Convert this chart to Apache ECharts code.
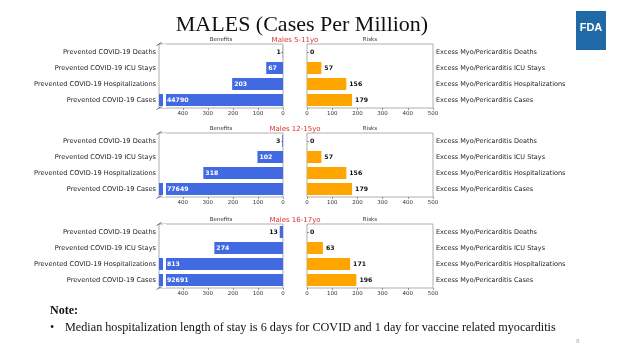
<!DOCTYPE html>
<html><head><meta charset="utf-8">
<script src="https://cdn.jsdelivr.net/npm/echarts@6/dist/echarts.min.js"></script>
<style>html,body{margin:0;padding:0;background:#fff}#c{width:624px;height:346px}</style>
</head><body><div id="c"></div>
<script>
// ---------- data ----------
const benefitCategories = ['Prevented COVID-19 Deaths', 'Prevented COVID-19 ICU Stays', 'Prevented COVID-19 Hospitalizations', 'Prevented COVID-19 Cases'];
const riskCategories = ['Excess Myo/Pericarditis Deaths', 'Excess Myo/Pericarditis ICU Stays', 'Excess Myo/Pericarditis Hospitalizations', 'Excess Myo/Pericarditis Cases'];
const groupTitles = ['Males 5-11yo', 'Males 12-15yo', 'Males 16-17yo'];
const benefits5to11 = [1, 67, 203, 44790];
const benefits12to15 = [3, 102, 318, 77649];
const benefits16to17 = [13, 274, 813, 92691];
const risks5to11 = [0, 57, 156, 179];
const risks12to15 = [0, 57, 156, 179];
const risks16to17 = [0, 63, 171, 196];
const benefitTicks = [0, 100, 200, 300, 400];
const riskTicks = [0, 100, 200, 300, 400, 500];
const benefitAxisMax = 495;
const riskAxisMax = 500;
const breakValue = 474;
const mainTitle = 'MALES (Cases Per Million)';
const noteTitle = 'Note:';
const noteText = 'Median hospitalization length of stay is 6 days for COVID and 1 day for vaccine related myocarditis';

const benefitsAll = [benefits5to11, benefits12to15, benefits16to17];
const risksAll = [risks5to11, risks12to15, risks16to17];

// ---------- layout ----------
const panelTops = [44, 133, 224];
const panelH = 64;
const L = {left: 159, width: 124};
const R = {left: 307, width: 126};
const FONT = 'DejaVu Sans';
const BLUE = '#4169E1', ORANGE = '#FFA500';

const grid = [], xAxis = [], yAxis = [], series = [], graphic = [];

panelTops.forEach((top, i) => {
  const gl = grid.length;
  grid.push({left: L.left, top: top, width: L.width, height: panelH, show: true, borderColor: '#9a9a9a', borderWidth: 0.8, containLabel: false});
  grid.push({left: R.left, top: top, width: R.width, height: panelH, show: true, borderColor: '#9a9a9a', borderWidth: 0.8, containLabel: false});

  const tickCommon = {show: true, length: 2, lineStyle: {color: '#555', width: 0.6}};
  xAxis.push({gridIndex: gl, type: 'value', min: 0, max: benefitAxisMax, interval: 100, inverse: true,
    splitLine: {show: false}, axisLine: {show: false},
    axisTick: Object.assign({customValues: benefitTicks}, tickCommon),
    axisLabel: {customValues: benefitTicks, fontSize: 5.5, color: '#333', margin: 3, fontFamily: FONT,
      formatter: v => (v % 100 === 0 ? String(v) : '')}});
  xAxis.push({gridIndex: gl + 1, type: 'value', min: 0, max: riskAxisMax, interval: 100,
    splitLine: {show: false}, axisLine: {show: false},
    axisTick: tickCommon,
    axisLabel: {fontSize: 5.5, color: '#333', margin: 3, fontFamily: FONT}});
  yAxis.push({gridIndex: gl, type: 'category', data: benefitCategories, inverse: true,
    axisLine: {show: false}, axisTick: Object.assign({alignWithLabel: true}, tickCommon),
    axisLabel: {fontSize: 6.6, color: '#222', margin: 3, fontFamily: FONT}});
  yAxis.push({gridIndex: gl + 1, type: 'category', data: riskCategories, inverse: true, position: 'right',
    axisLine: {show: false}, axisTick: Object.assign({alignWithLabel: true}, tickCommon),
    axisLabel: {fontSize: 6.5, color: '#222', margin: 3, fontFamily: FONT}});

  const bdata = benefitsAll[i].map(v => {
    const small = v < 40;
    const broken = v > benefitAxisMax;
    return {value: v, label: {
      position: small ? 'left' : 'insideLeft',
      color: small ? '#111' : '#fff',
      distance: broken ? 8 : 2
    }};
  });
  series.push({type: 'bar', xAxisIndex: gl, yAxisIndex: gl, data: bdata, barWidth: '75%',
    itemStyle: {color: BLUE}, clip: true,
    label: {show: true, formatter: '{c}', fontSize: 6.2, fontWeight: 'bold', fontFamily: FONT},
    markLine: {silent: true, symbol: 'none', animation: false, label: {show: false},
      lineStyle: {color: '#fff', width: 3, type: 'solid'}, data: [{xAxis: breakValue}]}
  });
  series.push({type: 'bar', xAxisIndex: gl + 1, yAxisIndex: gl + 1, data: risksAll[i], barWidth: '75%',
    itemStyle: {color: ORANGE},
    label: {show: true, position: 'right', distance: 3, formatter: '{c}', fontSize: 6.2, fontWeight: 'bold', color: '#111', fontFamily: FONT}
  });

  // panel titles
  graphic.push({type: 'text', x: L.left + L.width / 2, y: top - 4, style: {text: 'Benefits', fill: '#333', font: '5.5px "DejaVu Sans"', textAlign: 'center', textVerticalAlign: 'middle'}});
  graphic.push({type: 'text', x: R.left + R.width / 2, y: top - 4, style: {text: 'Risks', fill: '#333', font: '5.5px "DejaVu Sans"', textAlign: 'center', textVerticalAlign: 'middle'}});
  graphic.push({type: 'text', x: (L.left + L.width + R.left) / 2, y: top - 4, style: {text: groupTitles[i], fill: '#d8322f', font: '7px "DejaVu Sans"', textAlign: 'center', textVerticalAlign: 'middle'}});
  // axis break marks
  [top, top + panelH].forEach(yy => {
    graphic.push({type: 'line', shape: {x1: L.left - 2.5, y1: yy + 1.5, x2: L.left + 2.5, y2: yy - 1.5}, style: {stroke: '#333', lineWidth: 0.7}});
  });
});

graphic.push({type: 'text', x: 302, y: 25, style: {text: mainTitle, fill: '#111', font: '22px "Liberation Serif"', textAlign: 'center', textVerticalAlign: 'middle'}});
graphic.push({type: 'rect', shape: {x: 576, y: 11, width: 30, height: 39}, style: {fill: '#1f6aa6'}});
graphic.push({type: 'text', x: 591, y: 28, style: {text: 'FDA', fill: '#fff', font: 'bold 11px "Liberation Sans"', textAlign: 'center', textVerticalAlign: 'middle'}});
graphic.push({type: 'text', x: 50, y: 311, style: {text: noteTitle, fill: '#111', font: 'bold 12px "Liberation Serif"', textVerticalAlign: 'middle'}});
graphic.push({type: 'text', x: 50, y: 328, style: {text: '•', fill: '#111', font: '12px "Liberation Serif"', textVerticalAlign: 'middle'}});
graphic.push({type: 'text', x: 65, y: 328, style: {text: noteText, fill: '#111', font: '12.2px "Liberation Serif"', textVerticalAlign: 'middle'}});
graphic.push({type: 'text', x: 576, y: 341, style: {text: '8', fill: '#aaa', font: '7px "Liberation Serif"', textVerticalAlign: 'middle'}});

const chart = echarts.init(document.getElementById('c'), null, {renderer: 'canvas'});
chart.setOption({animation: false, backgroundColor: '#fff', grid, xAxis, yAxis, series, graphic});
</script></body></html>
